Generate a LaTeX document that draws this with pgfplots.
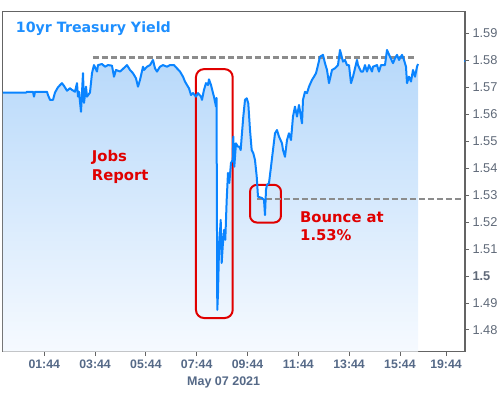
\documentclass[border=0pt]{standalone}
\usepackage{pgfplots}
\pgfplotsset{compat=1.18}
\usepackage{pgfplotstable}
\usepackage{fontspec}
\setmainfont{Liberation Sans}
\newfontfamily\dejavu{DejaVu Sans}
\definecolor{lineblue}{RGB}{10,132,255}
\definecolor{titleblue}{RGB}{30,143,255}
\definecolor{annred}{RGB}{224,0,0}
\definecolor{framegray}{RGB}{100,100,100}
\definecolor{ylab}{RGB}{95,105,120}
\definecolor{xlab}{RGB}{85,105,135}
\definecolor{dashgray}{RGB}{140,140,140}
\definecolor{filltop}{RGB}{182,216,250}
\definecolor{fillbot}{RGB}{246,250,255}

\pgfplotstableread{
t y
0.107 1.5680
1.013 1.5680
1.052 1.5683
1.288 1.5683
1.328 1.5665
1.367 1.5683
1.839 1.5683
1.879 1.5671
1.958 1.5653
2.076 1.5653
2.154 1.5680
2.272 1.5700
2.430 1.5715
2.509 1.5705
2.627 1.5687
2.745 1.5696
2.824 1.5690
2.942 1.5683
3.020 1.5715
3.060 1.5665
3.099 1.5683
3.178 1.5609
3.257 1.5752
3.296 1.5642
3.375 1.5702
3.414 1.5665
3.532 1.5680
3.611 1.5752
3.690 1.5782
3.808 1.5758
3.847 1.5782
4.005 1.5786
4.123 1.5776
4.241 1.5782
4.398 1.5780
4.477 1.5739
4.556 1.5764
4.713 1.5758
4.832 1.5768
4.989 1.5782
5.107 1.5764
5.225 1.5752
5.343 1.5733
5.422 1.5702
5.501 1.5727
5.619 1.5776
5.658 1.5764
5.776 1.5776
5.895 1.5782
6.013 1.5801
6.091 1.5770
6.170 1.5758
6.288 1.5776
6.406 1.5782
6.564 1.5776
6.682 1.5782
6.839 1.5782
6.957 1.5770
7.076 1.5758
7.194 1.5739
7.272 1.5721
7.351 1.5708
7.430 1.5696
7.509 1.5671
7.587 1.5678
7.705 1.5665
7.784 1.5678
7.902 1.5665
7.942 1.5653
8.020 1.5690
8.099 1.5715
8.178 1.5708
8.217 1.5729
8.296 1.5708
8.375 1.5678
8.414 1.5665
8.493 1.5628
8.513 1.5660
8.544 1.4874
8.572 1.4937
8.611 1.5097
8.678 1.5208
8.717 1.5048
8.757 1.5109
8.808 1.5171
8.859 1.5134
8.914 1.5282
8.965 1.5382
9.017 1.5345
9.083 1.5419
9.150 1.5430
9.174 1.5517
9.213 1.5405
9.280 1.5492
9.347 1.5480
9.410 1.5480
9.465 1.5467
9.505 1.5517
9.568 1.5591
9.635 1.5653
9.702 1.5659
9.764 1.5640
9.832 1.5541
9.898 1.5467
9.962 1.5455
10.028 1.5430
10.095 1.5370
10.146 1.5294
10.304 1.5289
10.383 1.5282
10.422 1.5226
10.461 1.5319
10.501 1.5338
10.579 1.5344
10.658 1.5405
10.737 1.5467
10.816 1.5529
10.894 1.5541
10.973 1.5517
11.091 1.5492
11.131 1.5467
11.209 1.5442
11.288 1.5504
11.367 1.5529
11.446 1.5504
11.524 1.5591
11.603 1.5628
11.682 1.5591
11.761 1.5634
11.879 1.5566
11.918 1.5653
11.997 1.5683
12.076 1.5678
12.154 1.5702
12.272 1.5727
12.351 1.5739
12.430 1.5752
12.509 1.5782
12.587 1.5813
12.705 1.5820
12.784 1.5789
12.863 1.5764
12.942 1.5715
13.060 1.5764
13.178 1.5770
13.296 1.5782
13.375 1.5838
13.493 1.5795
13.572 1.5801
13.650 1.5782
13.729 1.5782
13.808 1.5715
13.887 1.5739
13.965 1.5770
14.044 1.5801
14.083 1.5782
14.202 1.5758
14.280 1.5758
14.359 1.5782
14.438 1.5758
14.517 1.5782
14.635 1.5758
14.674 1.5776
14.832 1.5782
14.910 1.5758
14.989 1.5782
15.146 1.5782
15.225 1.5838
15.343 1.5813
15.461 1.5789
15.540 1.5807
15.619 1.5820
15.698 1.5801
15.816 1.5820
15.895 1.5801
15.973 1.5776
16.013 1.5715
16.091 1.5739
16.170 1.5721
16.249 1.5764
16.328 1.5739
16.406 1.5776
16.446 1.5786
}\yielddata

\begin{document}
\begin{tikzpicture}
\begin{axis}[
  scale only axis,
  width=462.7pt, height=340pt,
  xmin=0.08, xmax=18.296,
  ymin=1.4719, ymax=1.598,
  axis line style={draw=framegray, line width=1.2pt},
  xtick={1.733,3.733,5.733,7.733,9.733,11.733,13.733,15.733,17.548},
  xticklabels={01:44,03:44,05:44,07:44,09:44,11:44,13:44,15:44,19:44},
  ytick={1.48,1.49,1.50,1.51,1.52,1.53,1.54,1.55,1.56,1.57,1.58,1.59},
  yticklabels={1.48,1.49,\textbf{1.5},1.51,1.52,1.53,1.54,1.55,1.56,1.57,1.58,1.59},
  xtick pos=bottom, ytick pos=right,
  yticklabel pos=right,
  tick align=outside,
  major tick length=4pt,
  tick style={draw=framegray, line width=0.8pt},
  xticklabel style={font=\fontsize{12.3}{14}\selectfont\bfseries, text=xlab, yshift=-1pt},
  yticklabel style={font=\fontsize{12.8}{14}\selectfont, text=ylab, xshift=0pt},
  xlabel={May 07 2021},
  xlabel style={font=\fontsize{12.5}{14}\selectfont\bfseries, text=xlab, xshift=-10pt, yshift=-1pt},
  clip=true,
]
% filled area under the yield line
\addplot[draw=none, top color=filltop, bottom color=fillbot] table[x=t,y=y]{\yielddata} \closedcycle;
% red annotation boxes
\draw[annred, line width=2pt, rounded corners=8pt] (axis cs:7.705,1.5767) rectangle (axis cs:9.150,1.4844);
\draw[annred, line width=2pt, rounded corners=7pt] (axis cs:9.832,1.5338) rectangle (axis cs:11.052,1.5198);
% dashed reference levels
\addplot[dashgray, line width=2.2pt, dash pattern=on 6pt off 3pt] coordinates {(3.650,1.5810) (16.394,1.5810)};
\addplot[dashgray, line width=2.2pt, dash pattern=on 6pt off 3pt] coordinates {(10.10,1.5285) (18.17,1.5285)};
% yield line
\addplot[lineblue, line width=2pt, line join=round] table[x=t,y=y]{\yielddata};
% last value marker on the right axis
\addplot[lineblue, only marks, mark=diamond*, mark size=3.5pt, clip mode=individual, clip=false] coordinates {(18.375,1.5797)};
% texts
\node[anchor=base west, inner sep=0pt, text=titleblue, font=\dejavu\bfseries\fontsize{14.2}{16}\selectfont] at (rel axis cs:0.029,0.9394) {10yr Treasury Yield};
\node[anchor=base west, inner sep=0pt, text=annred, font=\dejavu\bfseries\fontsize{14.8}{16}\selectfont] at (rel axis cs:0.1932,0.5588) {Jobs};
\node[anchor=base west, inner sep=0pt, text=annred, font=\dejavu\bfseries\fontsize{14.8}{16}\selectfont] at (rel axis cs:0.1932,0.5050) {Report};
\node[anchor=base west, inner sep=0pt, text=annred, font=\dejavu\bfseries\fontsize{14.8}{16}\selectfont] at (rel axis cs:0.6434,0.3794) {Bounce at};
\node[anchor=base west, inner sep=0pt, text=annred, font=\dejavu\bfseries\fontsize{14.8}{16}\selectfont] at (rel axis cs:0.6434,0.3256) {1.53\%};
\end{axis}
\pgfresetboundingbox
\path[use as bounding box] (-2.3pt,-40.3pt) rectangle (498.7pt,351.7pt);
\end{tikzpicture}
\end{document}
